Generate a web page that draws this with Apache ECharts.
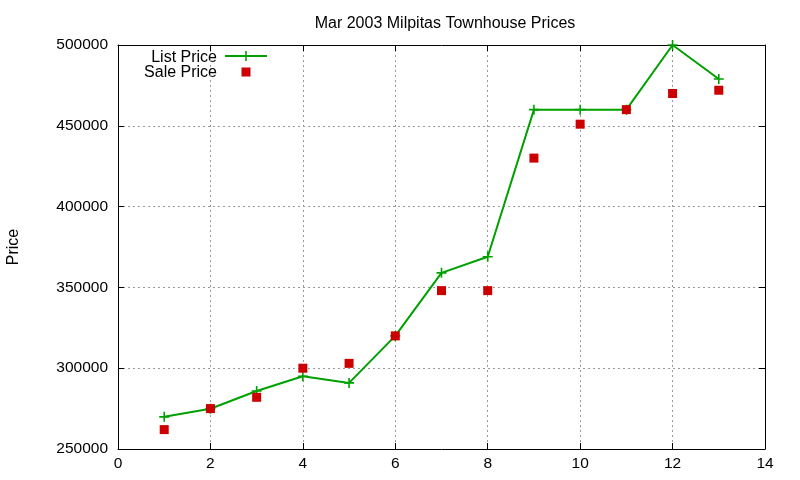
<!DOCTYPE html>
<html><head><meta charset="utf-8">
<script src="https://cdn.jsdelivr.net/npm/echarts@6/dist/echarts.min.js"></script>
<style>html,body{margin:0;padding:0;background:#fff}#c{width:800px;height:480px}</style>
</head><body><div id="c"></div>
<script>
const xValues = [1,2,3,4,5,6,7,8,9,10,11,12,13];
const listPrice = [269900,274900,285900,295000,290900,320000,359000,369000,460000,460000,460000,500000,479000];
const salePrice = [262000,275000,282000,300000,303000,320000,348000,348000,430000,451000,460000,470000,472000];
const seriesNames = ['List Price','Sale Price'];
const xTicks = {min:0,max:14,interval:2};
const yTicks = {min:250000,max:500000,interval:50000};

const font = 'Liberation Sans, Arial, sans-serif';
const green = '#00a000', red = '#cc0000';
const chart = echarts.init(document.getElementById('c'), null, {renderer:'canvas'});
const plus = 'path://M4.2,0H5.8V4.2H10V5.8H5.8V10H4.2V5.8H0V4.2H4.2Z';
const tickStyle = {show:true, inside:true, length:6, lineStyle:{color:'#000', width:1}};
const labelFont = {fontFamily:font, fontSize:15.5, color:'#000'};
chart.setOption({
  animation:false,
  backgroundColor:'#fff',
  title:{text:'Mar 2003 Milpitas Townhouse Prices', left:440, textAlign:'center', top:11,
    textStyle:{fontFamily:font, fontSize:16, fontWeight:'normal', color:'#000'}},
  legend:{show:false, data:seriesNames},
  graphic:[
    {type:'text', x:217, y:57.5, style:{text:seriesNames[0], align:'right', verticalAlign:'middle', font:'16px '+font, fill:'#000'}},
    {type:'line', shape:{x1:225, y1:56, x2:267, y2:56}, style:{stroke:green, lineWidth:2}},
    {type:'polygon', shape:{points:[[245.2,51],[246.8,51],[246.8,55.2],[251,55.2],[251,56.8],[246.8,56.8],[246.8,61],[245.2,61],[245.2,56.8],[241,56.8],[241,55.2],[245.2,55.2]]}, style:{fill:green}},
    {type:'text', x:217, y:73, style:{text:seriesNames[1], align:'right', verticalAlign:'middle', font:'16px '+font, fill:'#000'}},
    {type:'rect', shape:{x:241.5, y:67.5, width:9, height:9}, style:{fill:red}}
  ],
  grid:{left:118, right:35, top:45, bottom:31, containLabel:false, outerBoundsMode:'none'},
  xAxis:[{type:'value', min:xTicks.min, max:xTicks.max, interval:xTicks.interval,
    axisLine:{show:true, lineStyle:{color:'#000', width:1}},
    axisTick:tickStyle,
    axisLabel:Object.assign({margin:7}, labelFont),
    splitLine:{show:true, lineStyle:{color:'#999', type:[2,3], width:1}}},
    {type:'value', position:'top', min:xTicks.min, max:xTicks.max, interval:xTicks.interval,
    axisLine:{show:true, onZero:false, lineStyle:{color:'#000', width:1}},
    axisTick:tickStyle, axisLabel:{show:false}, splitLine:{show:false}}],
  yAxis:[{type:'value', min:yTicks.min, max:yTicks.max, interval:yTicks.interval,
    name:'Price', nameLocation:'middle', nameGap:96, nameRotate:90,
    nameTextStyle:{fontFamily:font, fontSize:16, color:'#000'},
    axisLine:{show:true, onZero:false, lineStyle:{color:'#000', width:1}},
    axisTick:tickStyle,
    axisLabel:Object.assign({margin:10, formatter:v=>String(v)}, labelFont),
    splitLine:{show:true, lineStyle:{color:'#999', type:[2,3], width:1}}},
    {type:'value', position:'right', min:yTicks.min, max:yTicks.max, interval:yTicks.interval,
    axisLine:{show:true, onZero:false, lineStyle:{color:'#000', width:1}},
    axisTick:tickStyle, axisLabel:{show:false}, splitLine:{show:false}}],
  series:[
    {name:seriesNames[0], type:'line', data:xValues.map((x,i)=>[x,listPrice[i]]),
      symbol:plus, symbolSize:10, showAllSymbol:true,
      lineStyle:{color:green, width:2}, itemStyle:{color:green, opacity:1}, z:3},
    {name:seriesNames[1], type:'scatter', data:xValues.map((x,i)=>[x,salePrice[i]]),
      symbol:'rect', symbolSize:9, itemStyle:{color:red, opacity:1}, z:4}
  ]
});
</script></body></html>
